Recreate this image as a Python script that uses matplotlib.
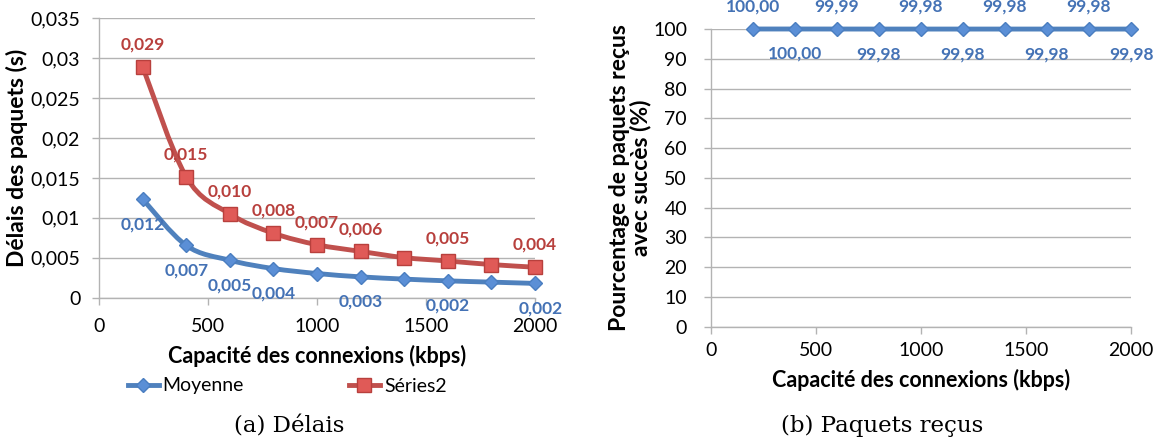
import numpy as np
import matplotlib
matplotlib.use("Agg")
import matplotlib.pyplot as plt
from matplotlib.path import Path
from matplotlib.patches import PathPatch
from matplotlib.lines import Line2D

plt.rcParams['font.family'] = ['Lato', 'DejaVu Sans']

# data
capacite = [200, 400, 600, 800, 1000, 1200, 1400, 1600, 1800, 2000]
moyenne = [0.01236, 0.00655, 0.00469, 0.00365, 0.00303, 0.00261, 0.00233, 0.00211, 0.00195, 0.00179]
series2 = [0.02894, 0.01514, 0.0105, 0.00808, 0.00664, 0.0058, 0.00502, 0.0046, 0.00415, 0.00382]
moyenne_labels = ["0,012", "0,007", "0,005", "0,004", None, "0,003", None, "0,002", None, "0,002"]
series2_labels = ["0,029", "0,015", "0,010", "0,008", "0,007", "0,006", None, "0,005", None, "0,004"]
recus = [100.00, 100.00, 99.99, 99.98, 99.98, 99.98, 99.98, 99.98, 99.98, 99.98]
recus_labels = ["100,00", "100,00", "99,99", "99,98", "99,98", "99,98", "99,98", "99,98", "99,98", "99,98"]

left_yticks = [0, 0.005, 0.01, 0.015, 0.02, 0.025, 0.03, 0.035]
left_yticklabels = ["0", "0,005", "0,01", "0,015", "0,02", "0,025", "0,03", "0,035"]
xticks = [0, 500, 1000, 1500, 2000]

BLUE = "#4F81BD"
RED = "#C0504D"
BLUE_TXT = "#4472B5"
RED_TXT = "#B8403D"
GRID = "#B3B3B3"


def smooth_path(x, y):
    # Catmull-Rom -> cubic bezier, like Excel's smoothed line
    p = np.column_stack([x, y]).astype(float)
    pts = np.vstack([p[0], p, p[-1]])
    verts = [tuple(p[0])]
    codes = [Path.MOVETO]
    for i in range(1, len(pts) - 2):
        c1 = pts[i] + (pts[i + 1] - pts[i - 1]) / 6
        c2 = pts[i + 1] - (pts[i + 2] - pts[i]) / 6
        verts += [tuple(c1), tuple(c2), tuple(pts[i + 1])]
        codes += [Path.CURVE4] * 3
    return Path(verts, codes)


def style_axes(ax, xpad, ypad):
    for s in ["top", "right"]:
        ax.spines[s].set_visible(False)
    for s in ["left", "bottom"]:
        ax.spines[s].set_color(GRID)
        ax.spines[s].set_linewidth(1)
    ax.yaxis.grid(True, color=GRID, linewidth=1)
    ax.set_axisbelow(True)
    ax.set_xticks(xticks)
    ax.set_xlim(0, 2000)
    ax.tick_params(colors=GRID, labelcolor="black", labelsize=14, length=5, width=1)
    ax.xaxis.set_tick_params(pad=xpad)
    ax.yaxis.set_tick_params(pad=ypad)


fig = plt.figure(figsize=(11.59, 4.43), dpi=100)
W, H = 1159, 443

# ---- (a) Délais
ax1 = fig.add_axes([99 / W, 1 - 297.7 / H, (535 - 99) / W, (297.7 - 18.3) / H])
ax1.set_ylim(0, 0.035)
ax1.set_yticks(left_yticks)
ax1.set_yticklabels(left_yticklabels)
style_axes(ax1, 9.5, 8.5)

for ys, col in [(moyenne, BLUE), (series2, RED)]:
    ax1.add_patch(PathPatch(smooth_path(capacite, ys), fill=False, edgecolor=col,
                            linewidth=3.5, capstyle="round", zorder=3))
ax1.plot(capacite, moyenne, linestyle="none", marker="D", markersize=7.5,
         markerfacecolor="#5B8FD6", markeredgecolor="#4A7EC0", zorder=4, clip_on=False)
ax1.plot(capacite, series2, linestyle="none", marker="s", markersize=10,
         markerfacecolor="#E05A57", markeredgecolor="#B8403D", zorder=4, clip_on=False)

for x, y, lab in zip(capacite, series2, series2_labels):
    if lab:
        ax1.annotate(lab, (x, y), xytext=(0, 16), textcoords="offset points",
                     ha="center", va="center", color=RED_TXT, fontsize=12.5, fontweight="bold")
for i, (x, y, lab) in enumerate(zip(capacite, moyenne, moyenne_labels)):
    if lab:
        dx = 4 if i == len(capacite) - 1 else 0
        ax1.annotate(lab, (x, y), xytext=(dx, -18), textcoords="offset points",
                     ha="center", va="center", color=BLUE_TXT, fontsize=12.5, fontweight="bold")

ax1.set_ylabel("Délais des paquets (s)", fontsize=16.5, fontweight="bold", va="center")
ax1.yaxis.set_label_coords((17 - 99) / 436, 0.5)
ax1.set_xlabel("Capacité des connexions (kbps)", fontsize=15.5, fontweight="bold", va="center")
ax1.xaxis.set_label_coords(0.5, -(356 - 297.7) / 279.4)

handles = [Line2D([], [], color=BLUE, linewidth=3.5, marker="D", markersize=7.5,
                  markerfacecolor="#5B8FD6", markeredgecolor="#4A7EC0"),
           Line2D([], [], color=RED, linewidth=3.5, marker="s", markersize=10,
                  markerfacecolor="#E05A57", markeredgecolor="#B8403D")]
fig.legend(handles, ["Moyenne", "Séries2"], loc="center left",
           bbox_to_anchor=(110 / W, 1 - 386 / H), ncol=2, frameon=False,
           fontsize=14, handlelength=1.6, handletextpad=0.2, columnspacing=5.4)

fig.text(289 / W, 1 - 426 / H, "(a) Délais", ha="center", va="center",
         fontsize=16.5, family="DejaVu Serif")

# ---- (b) Paquets reçus
ax2 = fig.add_axes([710.7 / W, 1 - 326.7 / H, (1131 - 710.7) / W, (326.7 - 29) / H])
ax2.set_ylim(0, 100)
ax2.set_yticks(range(0, 101, 10))
style_axes(ax2, 6, 12)
ax2.plot(capacite, recus, color=BLUE, linewidth=3.5, marker="D", markersize=7.5,
         markerfacecolor="#5B8FD6", markeredgecolor="#4A7EC0", zorder=4, clip_on=False)
for i, (x, y, lab) in enumerate(zip(capacite, recus, recus_labels)):
    dy = 16 if i % 2 == 0 else -18
    ax2.annotate(lab, (x, y), xytext=(0, dy), textcoords="offset points",
                 ha="center", va="center", color=BLUE_TXT, fontsize=12.5, fontweight="bold",
                 annotation_clip=False)

ax2.set_ylabel("Pourcentage de paquets reçus\navec succès (%)", fontsize=16.5,
               fontweight="bold", linespacing=1.0, va="center")
ax2.yaxis.set_label_coords((630 - 710.7) / 420.3, 0.5)
ax2.set_xlabel("Capacité des connexions (kbps)", fontsize=15.5, fontweight="bold", va="center")
ax2.xaxis.set_label_coords(0.5, -(380 - 326.7) / 297.7)

fig.text(882 / W, 1 - 426 / H, "(b) Paquets reçus", ha="center", va="center",
         fontsize=16.5, family="DejaVu Serif")

fig.savefig("out.png", dpi=100)
